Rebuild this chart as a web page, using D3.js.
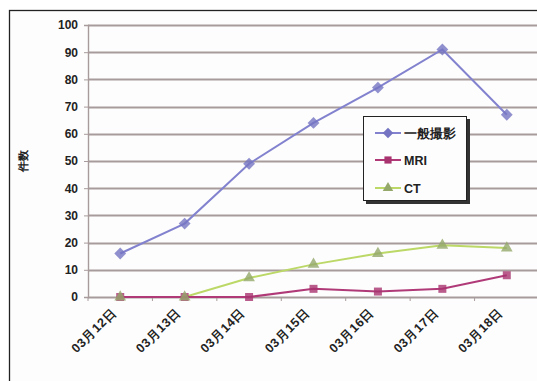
<!DOCTYPE html>
<html><head><meta charset="utf-8">
<script src="https://cdn.jsdelivr.net/npm/d3@7/dist/d3.min.js"></script>
<style>
html,body{margin:0;padding:0;background:#fff;}
svg{display:block;}
text{font-family:"Liberation Sans",Arial,sans-serif;font-weight:bold;fill:#222;}
</style></head>
<body>
<svg id="c" width="537" height="381"></svg>
<script>
const categories = ["03月12日","03月13日","03月14日","03月15日","03月16日","03月17日","03月18日"];
const seriesNames = ["一般撮影","MRI","CT"];
const generalValues = [16,27,49,64,77,91,67];
const mriValues = [0,0,0,3,2,3,8];
const ctValues = [0,0,7,12,16,19,18];
const yTicks = [0,10,20,30,40,50,60,70,80,90,100];
const yTitle = "件数";

const svg = d3.select("#c");
svg.append("rect").attr("x",9.5).attr("y",10.5).attr("width",600).attr("height",500)
  .attr("fill","#fdfdfd").attr("stroke","#222").attr("stroke-width",1.3);

const x = d3.scaleBand().domain(categories).range([88,539]);
const y = d3.scaleLinear().domain([0,100]).range([297,25]);

// grid
const gridG = svg.append("g");
gridG.selectAll("line").data(yTicks.filter(d=>d>0)).join("line")
  .attr("x1",88).attr("x2",537)
  .attr("y1",d=>Math.round(y(d))+0.5).attr("y2",d=>Math.round(y(d))+0.5)
  .style("stroke","#a89b9b").style("stroke-width","2px");

// y axis
const ya = svg.append("g").attr("transform","translate(88,0)")
  .call(d3.axisLeft(y).tickValues(yTicks).tickSize(4).tickPadding(6));
ya.select(".domain").attr("stroke","#a89b9b").attr("stroke-width",1.4);
ya.selectAll(".tick line").attr("stroke","#a89b9b");
ya.selectAll("text").style("font-size","12px").attr("fill","#222");

// x axis
const xa = svg.append("g").attr("transform","translate(0,297)");
xa.append("line").attr("x1",88).attr("x2",537).attr("y1",0.5).attr("y2",0.5)
  .style("stroke","#a89b9b").style("stroke-width","2px");
xa.selectAll("line.tk").data(categories).join("line").attr("class","tk")
  .attr("x1",d=>x(d)).attr("x2",d=>x(d)).attr("y1",0).attr("y2",4)
  .attr("stroke","#a89b9b");
xa.selectAll("text").data(categories).join("text")
  .attr("transform",d=>`translate(${x(d)+x.bandwidth()/2-3},${16}) rotate(-45)`)
  .attr("text-anchor","end").style("font-size","12.5px").style("letter-spacing","0.6px").text(d=>d);

svg.append("text").attr("transform","translate(27,161) rotate(-90)")
  .attr("text-anchor","middle").style("font-size","11px").text(yTitle);

const cx = d => x(d)+x.bandwidth()/2;
const diamond = {draw(ctx,size){const r=Math.sqrt(size)/Math.SQRT2; ctx.moveTo(0,-r);ctx.lineTo(r,0);ctx.lineTo(0,r);ctx.lineTo(-r,0);ctx.closePath();}};
const series = [
  {name:seriesNames[0], values:generalValues, color:"#8282cf", mcolor:"#7474c2", sym:diamond, size:70},
  {name:seriesNames[1], values:mriValues, color:"#b03a78", mcolor:"#a8336f", sym:d3.symbolSquare, size:64},
  {name:seriesNames[2], values:ctValues, color:"#bcd867", mcolor:"#94a86a", sym:d3.symbolTriangle, size:60},
];
const line = d3.line().x(d=>cx(d.c)).y(d=>y(d.v));
[series[2],series[1],series[0]].forEach(s=>{
  const pts = categories.map((c,i)=>({c,v:s.values[i]}));
  svg.append("path").datum(pts).attr("d",line).attr("fill","none")
    .attr("stroke",s.color).attr("stroke-width",2);
});
[series[1],series[2],series[0]].forEach(s=>{
  const pts = categories.map((c,i)=>({c,v:s.values[i]}));
  svg.append("g").selectAll("path").data(pts).join("path")
    .attr("transform",d=>`translate(${cx(d.c)},${y(d.v)})`)
    .attr("d",d3.symbol().type(s.sym).size(s.size))
    .attr("fill",s.mcolor).attr("fill-opacity",0.8);
});

const lg = svg.append("g");
lg.append("rect").attr("x",366).attr("y",119).attr("width",104).attr("height",85).attr("fill","#333");
lg.append("rect").attr("x",363.5).attr("y",116.5).attr("width",103).attr("height",84)
  .attr("fill","#fdfdfd").attr("stroke","#222").attr("stroke-width",1);
const ly = [133,160,188];
series.forEach((s,i)=>{
  lg.append("line").attr("x1",375).attr("x2",401).attr("y1",ly[i]).attr("y2",ly[i])
    .attr("stroke",s.color).attr("stroke-width",2);
  lg.append("path").attr("transform",`translate(388,${ly[i]})`)
    .attr("d",d3.symbol().type(s.sym).size(s.size*0.8)).attr("fill",s.mcolor);
  lg.append("text").attr("x",404).attr("y",ly[i]+4.5).style("font-size","12.5px").text(s.name);
});
</script>
</body></html>
